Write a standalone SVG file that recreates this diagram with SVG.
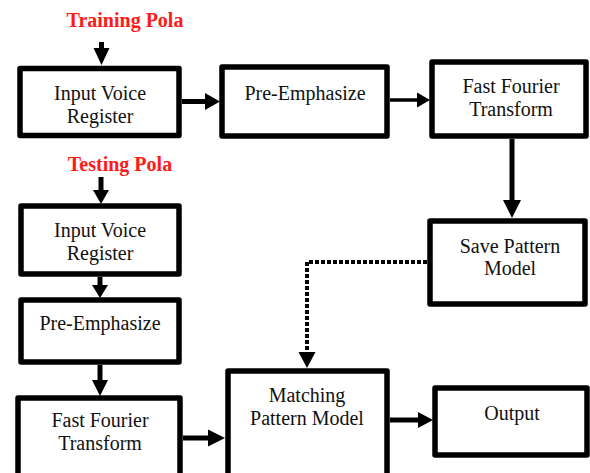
<svg xmlns="http://www.w3.org/2000/svg" width="590" height="473" viewBox="0 0 590 473">
<style>
.box{fill:#fff;stroke:#000;stroke-width:5.5;stroke-linejoin:round}
.t{font-family:'Liberation Serif','DejaVu Serif',serif;font-size:20px;fill:#111;text-anchor:middle}
.lbl{font-family:'Liberation Serif','DejaVu Serif',serif;font-size:20px;font-weight:bold;fill:#ff1a1a;text-anchor:middle}
.ln{stroke:#000;stroke-width:5;fill:none}
.hd{fill:#000}
</style>
<rect width="590" height="473" fill="#fff"/>
<g id="label-training"><text class="lbl" x="125" y="27" font-family="Liberation Serif">Training Pola</text></g>
<g id="label-testing"><text class="lbl" x="120" y="171" font-family="Liberation Serif">Testing Pola</text></g>

<g id="train-input"><rect class="box" x="20" y="68.5" width="159" height="67"/><text class="t" x="100" y="100">Input Voice</text><text class="t" x="100" y="123">Register</text></g>
<g id="train-pre"><rect class="box" x="222" y="67" width="165" height="69"/><text class="t" x="305" y="100">Pre-Emphasize</text></g>
<g id="train-fft"><rect class="box" x="432" y="62" width="154" height="74"/><text class="t" x="511" y="92.5">Fast Fourier</text><text class="t" x="511" y="115.5">Transform</text></g>
<g id="save"><rect class="box" x="430" y="221" width="155" height="83"/><text class="t" x="510" y="253">Save Pattern</text><text class="t" x="510" y="275">Model</text></g>
<g id="matching"><rect class="box" x="228" y="371" width="159" height="120"/><text class="t" x="307" y="402">Matching</text><text class="t" x="307" y="425">Pattern Model</text></g>
<g id="output"><rect class="box" x="435" y="388" width="152" height="67"/><text class="t" x="512" y="420">Output</text></g>
<g id="test-input"><rect class="box" x="21" y="206" width="158" height="68"/><text class="t" x="100" y="237">Input Voice</text><text class="t" x="100" y="260">Register</text></g>
<g id="test-pre"><rect class="box" x="21" y="300" width="158" height="62"/><text class="t" x="100" y="330">Pre-Emphasize</text></g>
<g id="test-fft"><rect class="box" x="18" y="398" width="162" height="100"/><text class="t" x="100" y="427">Fast Fourier</text><text class="t" x="100" y="450">Transform</text></g>

<g id="connectors">
<line class="ln" x1="101.5" y1="42" x2="101.5" y2="50"/><polygon class="hd" points="93.5,48 109.5,48 101.5,65"/>
<line class="ln" x1="182" y1="101.5" x2="207" y2="101.5"/><polygon class="hd" points="205,93 205,110 220,101.5"/>
<line class="ln" x1="390" y1="100" x2="419" y2="100" style="stroke-width:3.5"/><polygon class="hd" points="417,92.5 417,107.5 430,100"/>
<line class="ln" x1="512" y1="139" x2="512" y2="202"/><polygon class="hd" points="503,200 521,200 512,218"/>
<path class="ln" d="M427,262 H307 V354" style="stroke-width:4;stroke-dasharray:4 2"/><polygon class="hd" points="298.5,352 315.5,352 307,368"/>
<line class="ln" x1="101" y1="177" x2="101" y2="192"/><polygon class="hd" points="93,190 109,190 101,204"/>
<line class="ln" x1="100" y1="277" x2="100" y2="287"/><polygon class="hd" points="92,285 108,285 100,298"/>
<line class="ln" x1="100" y1="365" x2="100" y2="382"/><polygon class="hd" points="92,380 108,380 100,396"/>
<line class="ln" x1="183" y1="438" x2="210" y2="438"/><polygon class="hd" points="208,429.5 208,446.5 225,438"/>
<line class="ln" x1="390" y1="420" x2="420" y2="420"/><polygon class="hd" points="418,412 418,428 433,420"/>
</g>
</svg>
